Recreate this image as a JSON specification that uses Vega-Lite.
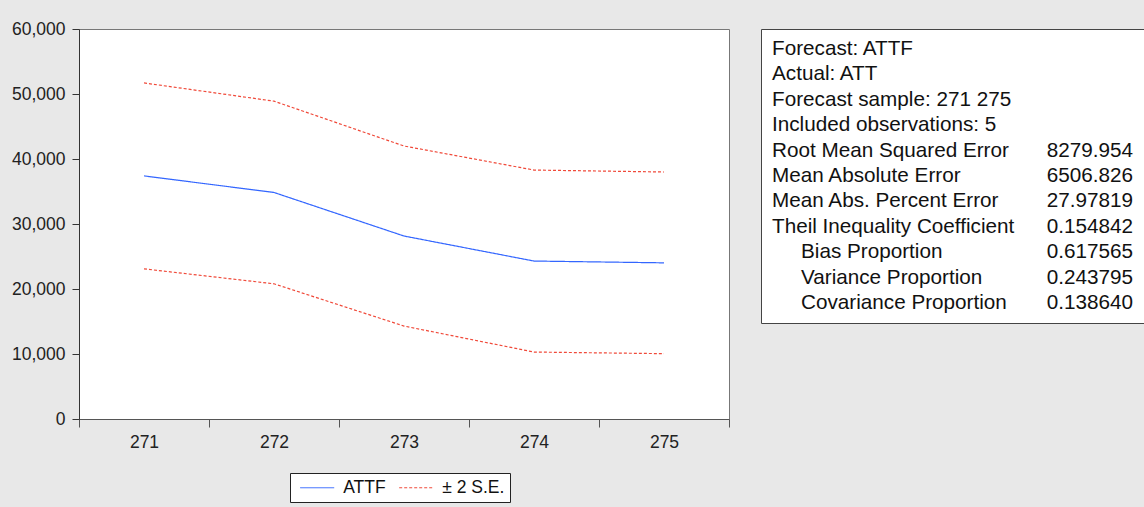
{
  "$schema": "https://vega.github.io/schema/vega-lite/v6.json",
  "background": "#e8e8e8",
  "padding": {"left": 10, "top": 19, "right": 0, "bottom": 6},
  "spacing": 30,
  "config": {
    "font": "Liberation Sans",
    "view": {"fill": "white"},
    "axis": {"labelFont": "Liberation Sans", "labelColor": "#222", "domainColor": "#444", "tickColor": "#444", "grid": false}
  },
  "hconcat": [
    {
      "width": 650,
      "height": 390,
      "view": {"stroke": "#777", "fill": "white"},
      "data": {
        "values": [
          {"obs": "271", "line": "ATTF", "series": "ATTF", "value": 37400},
          {"obs": "272", "line": "ATTF", "series": "ATTF", "value": 34850},
          {"obs": "273", "line": "ATTF", "series": "ATTF", "value": 28150},
          {"obs": "274", "line": "ATTF", "series": "ATTF", "value": 24300},
          {"obs": "275", "line": "ATTF", "series": "ATTF", "value": 24025},
          {"obs": "271", "line": "upper", "series": "± 2 S.E.", "value": 51700},
          {"obs": "272", "line": "upper", "series": "± 2 S.E.", "value": 48900},
          {"obs": "273", "line": "upper", "series": "± 2 S.E.", "value": 42000},
          {"obs": "274", "line": "upper", "series": "± 2 S.E.", "value": 38300},
          {"obs": "275", "line": "upper", "series": "± 2 S.E.", "value": 38000},
          {"obs": "271", "line": "lower", "series": "± 2 S.E.", "value": 23100},
          {"obs": "272", "line": "lower", "series": "± 2 S.E.", "value": 20800},
          {"obs": "273", "line": "lower", "series": "± 2 S.E.", "value": 14300},
          {"obs": "274", "line": "lower", "series": "± 2 S.E.", "value": 10300},
          {"obs": "275", "line": "lower", "series": "± 2 S.E.", "value": 10050}
        ]
      },
      "mark": {"type": "line", "strokeWidth": 1.2},
      "encoding": {
        "x": {
          "field": "obs",
          "type": "ordinal",
          "bandPosition": 0.5,
          "scale": {"type": "band", "paddingInner": 0, "paddingOuter": 0},
          "axis": {"title": null, "tickBand": "extent", "labelAngle": 0, "tickSize": 8, "labelPadding": 6, "labelFontSize": 17.5, "domainColor": "#555", "tickColor": "#555"}
        },
        "y": {
          "field": "value",
          "type": "quantitative",
          "scale": {"domain": [0, 60000], "nice": false},
          "axis": {"title": null, "values": [0, 10000, 20000, 30000, 40000, 50000, 60000], "format": ",.0f", "tickSize": 7, "labelPadding": 7, "labelFontSize": 17.5, "domainColor": "#333", "tickColor": "#333"}
        },
        "color": {
          "field": "series",
          "type": "nominal",
          "scale": {"domain": ["ATTF", "± 2 S.E."], "range": ["#3366ff", "#f04a3a"]},
          "legend": {"orient": "none", "legendX": 211, "legendY": 444, "direction": "horizontal", "title": null, "fillColor": "white", "strokeColor": "#222", "padding": 5.5, "symbolType": "M-2,0H2", "symbolSize": 289, "symbolOffset": 12.7, "symbolStrokeWidth": 1, "labelFontSize": 17.5, "labelColor": "#111", "labelOffset": 17, "columnPadding": 8}
        },
        "strokeDash": {
          "field": "series",
          "type": "nominal",
          "scale": {"domain": ["ATTF", "± 2 S.E."], "range": [[1, 0], [3, 2]]},
          "legend": {"orient": "none", "legendX": 211, "legendY": 444, "direction": "horizontal", "title": null, "fillColor": "white", "strokeColor": "#222", "padding": 5.5, "symbolType": "M-2,0H2", "symbolSize": 289, "symbolOffset": 12.7, "symbolStrokeWidth": 1, "labelFontSize": 17.5, "labelColor": "#111", "labelOffset": 17, "columnPadding": 8}
        },
        "detail": {"field": "line", "type": "nominal"}
      }
    },
    {
      "width": 386,
      "height": 294,
      "view": {"stroke": "#444", "fill": "white"},
      "data": {
        "values": [
          {"row": 1, "level": 0, "label": "Forecast: ATTF", "value": ""},
          {"row": 2, "level": 0, "label": "Actual: ATT", "value": ""},
          {"row": 3, "level": 0, "label": "Forecast sample: 271 275", "value": ""},
          {"row": 4, "level": 0, "label": "Included observations: 5", "value": ""},
          {"row": 5, "level": 0, "label": "Root Mean Squared Error", "value": "8279.954"},
          {"row": 6, "level": 0, "label": "Mean Absolute Error", "value": "6506.826"},
          {"row": 7, "level": 0, "label": "Mean Abs. Percent Error", "value": "27.97819"},
          {"row": 8, "level": 0, "label": "Theil Inequality Coefficient", "value": "0.154842"},
          {"row": 9, "level": 1, "label": "Bias Proportion", "value": "0.617565"},
          {"row": 10, "level": 1, "label": "Variance Proportion", "value": "0.243795"},
          {"row": 11, "level": 1, "label": "Covariance Proportion", "value": "0.138640"}
        ]
      },
      "encoding": {
        "y": {"field": "row", "type": "ordinal", "scale": {"type": "point", "padding": 0.765}, "axis": null}
      },
      "layer": [
        {
          "transform": [{"filter": "datum.level == 0"}],
          "mark": {"type": "text", "align": "left", "baseline": "middle", "fontSize": 20.7, "color": "#111"},
          "encoding": {
            "x": {"datum": 0, "type": "quantitative", "scale": {"domain": [-0.03047, 1.0388], "nice": false, "zero": false}, "axis": null},
            "text": {"field": "label"}
          }
        },
        {
          "transform": [{"filter": "datum.level == 1"}],
          "mark": {"type": "text", "align": "left", "baseline": "middle", "fontSize": 20.7, "color": "#111", "dx": 29},
          "encoding": {
            "x": {"datum": 0, "type": "quantitative"},
            "text": {"field": "label"}
          }
        },
        {
          "mark": {"type": "text", "align": "right", "baseline": "middle", "fontSize": 20.7, "color": "#111"},
          "encoding": {
            "x": {"datum": 1, "type": "quantitative"},
            "text": {"field": "value"}
          }
        }
      ]
    }
  ]
}
